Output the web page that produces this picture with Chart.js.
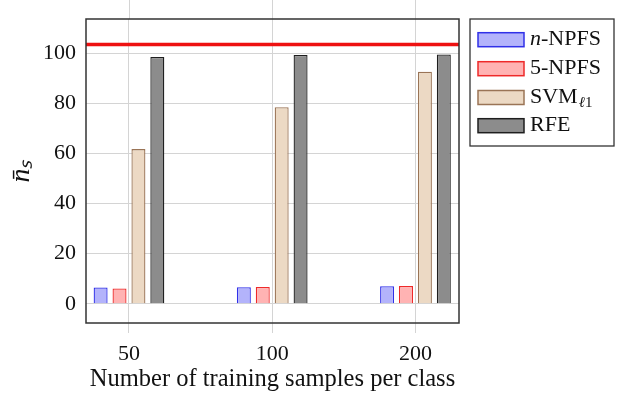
<!DOCTYPE html>
<html>
<head>
<meta charset="utf-8">
<script src="https://cdn.jsdelivr.net/npm/chart.js@4"></script>
<style>
html,body{margin:0;padding:0;background:#fff;}
#wrap{width:620px;height:394px;}
</style>
</head>
<body>
<div id="wrap"><canvas id="c" width="620" height="394"></canvas></div>
<script>
// ---- data ----
const categories = ['50', '100', '200'];
const seriesNames = ['n-NPFS', '5-NPFS', 'SVMℓ1', 'RFE'];
const nNPFS = [6.5, 6.6, 7.0];
const fiveNPFS = [6.1, 6.7, 7.1];
const svmL1 = [61.8, 78.5, 92.7];
const rfe = [98.6, 99.4, 99.6];
const referenceLevel = 103.6;
const yTicks = [0, 20, 40, 60, 80, 100];

const FONT = "'Liberation Serif', 'Times New Roman', serif";
const fills = ['#b3b3fb', '#ffb3b3', '#ecd9c4', '#8c8c8c'];
const borders = ['#3030e8', '#ee2a2a', '#9a7456', '#1e1e1e'];
const seriesValues = [nNPFS, fiveNPFS, svmL1, rfe];

const xMin = -0.30, xMax = 2.304;

const datasets = seriesValues.map((vals, i) => ({
  type: 'bar',
  label: seriesNames[i],
  data: vals.map((v, k) => ({x: k, y: v})),
  backgroundColor: fills[i],
  borderColor: borders[i],
  borderWidth: 1.3,
  categoryPercentage: 0.528,
  barPercentage: 0.74,
  order: 2
}));
datasets.push({
  type: 'line',
  label: 'reference',
  data: [{x: xMin, y: referenceLevel}, {x: xMax, y: referenceLevel}],
  borderColor: '#ee1111',
  borderWidth: 3.5,
  pointRadius: 0,
  order: 1
});

const framePlugin = {
  id: 'frame',
  afterDraw(chart) {
    const ctx = chart.ctx, a = chart.chartArea;
    const xs = chart.scales.x;
    ctx.save();
    // grid lines above frame (pgfplots style)
    ctx.strokeStyle = '#d4d4d4';
    ctx.lineWidth = 1;
    [0, 1, 2].forEach(v => {
      const px = Math.round(xs.getPixelForValue(v)) + 0.5;
      ctx.beginPath(); ctx.moveTo(px, 0); ctx.lineTo(px, a.top); ctx.stroke();
    });
    ctx.strokeStyle = '#333';
    ctx.lineWidth = 1.5;
    ctx.strokeRect(a.left, a.top, a.right - a.left, a.bottom - a.top);

    // legend
    const lx = 470, ly = 19, lw = 144, lh = 127;
    ctx.fillStyle = '#fff';
    ctx.fillRect(lx, ly, lw, lh);
    ctx.strokeStyle = '#333';
    ctx.lineWidth = 1.3;
    ctx.strokeRect(lx, ly, lw, lh);
    const rowY = [39.7, 68.7, 97.5, 125.7];
    chart.data.datasets.slice(0, 4).forEach((ds, i) => {
      const cy = rowY[i];
      ctx.fillStyle = ds.backgroundColor;
      ctx.strokeStyle = ds.borderColor;
      ctx.lineWidth = 1.5;
      ctx.fillRect(478, cy - 7, 46, 14);
      ctx.strokeRect(478, cy - 7, 46, 14);
      ctx.fillStyle = '#111';
      ctx.textBaseline = 'middle';
      ctx.textAlign = 'left';
      let x = 530;
      const lbl = ds.label;
      if (lbl.startsWith('n-')) {
        ctx.font = 'italic 22px ' + FONT;
        ctx.fillText('n', x, cy);
        x += ctx.measureText('n').width;
        ctx.font = '22px ' + FONT;
        ctx.fillText(lbl.slice(1), x, cy);
      } else if (lbl.startsWith('SVM')) {
        ctx.font = '22px ' + FONT;
        ctx.fillText('SVM', x, cy);
        x += ctx.measureText('SVM').width + 1;
        ctx.font = 'italic 15px ' + FONT;
        ctx.fillText('ℓ', x, cy + 6);
        x += ctx.measureText('ℓ').width;
        ctx.font = '15px ' + FONT;
        ctx.fillText('1', x, cy + 6);
      } else {
        ctx.font = '22px ' + FONT;
        ctx.fillText(lbl, x, cy);
      }
    });
    ctx.restore();
  }
};

new Chart(document.getElementById('c'), {
  data: {datasets},
  options: {
    responsive: false,
    animation: false,
    layout: {padding: {left: 0, right: 161, top: 19, bottom: 0}},
    plugins: {legend: {display: false}, tooltip: {enabled: false}},
    scales: {
      x: {
        type: 'linear',
        min: xMin, max: xMax,
        offset: false,
        afterBuildTicks(s) { s.ticks = categories.map((c, i) => ({value: i})); },
        afterFit(s) { s.height = 71; s.paddingLeft = 0; s.paddingRight = 0; },
        ticks: {
          callback: (v) => categories[v] ?? '',
          font: {family: FONT, size: 22},
          color: '#111',
          padding: 8,
          maxRotation: 0
        },
        grid: {color: '#d4d4d4', tickLength: 10, drawTicks: true, offset: false},
        border: {display: false},
        title: {
          display: true,
          text: 'Number of training samples per class',
          font: {family: FONT, size: 24.5},
          color: '#111',
          padding: {top: 0, bottom: 0}
        }
      },
      y: {
        min: -7.7, max: 113.8,
        afterBuildTicks(s) { s.ticks = yTicks.map(v => ({value: v})); },
        afterFit(s) { s.width = 86; s.paddingTop = 0; s.paddingBottom = 0; },
        ticks: {
          font: {family: FONT, size: 22},
          color: '#111',
          padding: 10
        },
        grid: {color: '#d4d4d4', drawTicks: false},
        border: {display: false},
        title: {
          display: true,
          text: 'n̄ₛ',
          font: {family: FONT, size: 28, style: 'italic'},
          color: '#111',
          padding: {top: 5, bottom: 0}
        }
      }
    }
  },
  plugins: [framePlugin]
});
</script>
</body>
</html>
